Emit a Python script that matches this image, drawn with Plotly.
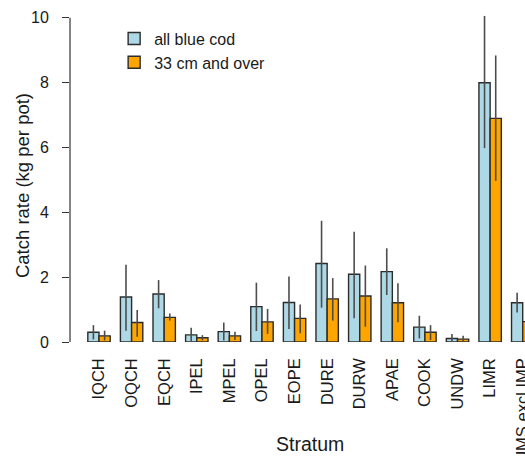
import plotly.graph_objects as go

strata = ["IQCH", "OQCH", "EQCH", "IPEL", "MPEL", "OPEL", "EOPE", "DURE",
          "DURW", "APAE", "COOK", "UNDW", "LIMR", "ALL STRATUMS excl IMP"]

all_cod = [0.30, 1.39, 1.48, 0.22, 0.32, 1.09, 1.22, 2.42, 2.09, 2.17, 0.46, 0.11, 8.00, 1.21]
all_lo = [0.08, 0.35, 1.04, 0.03, 0.05, 0.34, 0.40, 1.06, 0.73, 1.45, 0.11, 0.01, 5.98, 0.91]
all_hi = [0.52, 2.38, 1.91, 0.44, 0.60, 1.83, 2.02, 3.74, 3.40, 2.89, 0.81, 0.25, 10.06, 1.52]

big_cod = [0.19, 0.60, 0.76, 0.13, 0.19, 0.62, 0.73, 1.33, 1.42, 1.21, 0.30, 0.09, 6.90, 0.63]
big_lo = [0.05, 0.16, 0.66, 0.05, 0.06, 0.25, 0.27, 0.66, 0.47, 0.61, 0.06, 0.01, 4.97, 0.45]
big_hi = [0.35, 0.99, 0.88, 0.21, 0.32, 1.02, 1.16, 1.97, 2.36, 1.81, 0.52, 0.19, 8.84, 0.80]

y_ticks = [0, 2, 4, 6, 8, 10]

FONT = "Liberation Sans, Arial, sans-serif"
TXT = "#1a1a1a"
ERR = "#4d4d4d"


def err(vals, lo, hi):
    return dict(type="data", symmetric=False,
                array=[h - v for v, h in zip(vals, hi)],
                arrayminus=[v - l for v, l in zip(vals, lo)],
                color=ERR, thickness=1.6, width=0)


fig = go.Figure()
fig.add_trace(go.Bar(x=strata, y=all_cod, name="all blue cod",
                     marker=dict(color="#ADD8E6", line=dict(color="#2b2b2b", width=1.4)),
                     error_y=err(all_cod, all_lo, all_hi)))
fig.add_trace(go.Bar(x=strata, y=big_cod, name="33 cm and over",
                     marker=dict(color="#FFA500", line=dict(color="#2b2b2b", width=1.4)),
                     error_y=err(big_cod, big_lo, big_hi)))

fig.update_layout(
    width=525, height=458,
    margin=dict(l=70, r=0, t=13, b=116, autoexpand=False),
    paper_bgcolor="white", plot_bgcolor="white",
    barmode="group", bargap=0.313, bargroupgap=0,
    font=dict(family=FONT, size=16, color=TXT),
    showlegend=True,
    legend=dict(x=0.097, y=0.974, xanchor="left", yanchor="top",
                bgcolor="rgba(0,0,0,0)", font=dict(size=16, color=TXT),
                tracegroupgap=0),
    xaxis=dict(range=[-0.89, 13.07], showline=False, showgrid=False,
               zeroline=False, ticks="", tickangle=-90, automargin=False,
               ticklabelstandoff=12, tickfont=dict(size=16.5, color=TXT)),
    yaxis=dict(range=[0, 10.15], tickvals=y_ticks, showline=False,
               showgrid=False, zeroline=False, ticks="outside", ticklen=7,
               tickwidth=1.2, tickcolor="#333333", ticklabelstandoff=10,
               automargin=False, tickfont=dict(size=16, color=TXT)),
    annotations=[
        dict(text="Catch rate (kg per pot)", xref="paper", yref="paper",
             x=-0.1055, y=0.477, textangle=-90, showarrow=False,
             font=dict(size=18.5, color=TXT), xanchor="center", yanchor="middle"),
        dict(text="Stratum", xref="paper", yref="paper",
             x=0.5275, y=-0.31, showarrow=False,
             font=dict(size=19.5, color=TXT), xanchor="center", yanchor="middle"),
    ],
    shapes=[dict(type="line", xref="paper", yref="y", x0=0, x1=0, y0=0, y1=10,
                 line=dict(color="#333333", width=1.2))],
)

fig.write_html("out.html")
